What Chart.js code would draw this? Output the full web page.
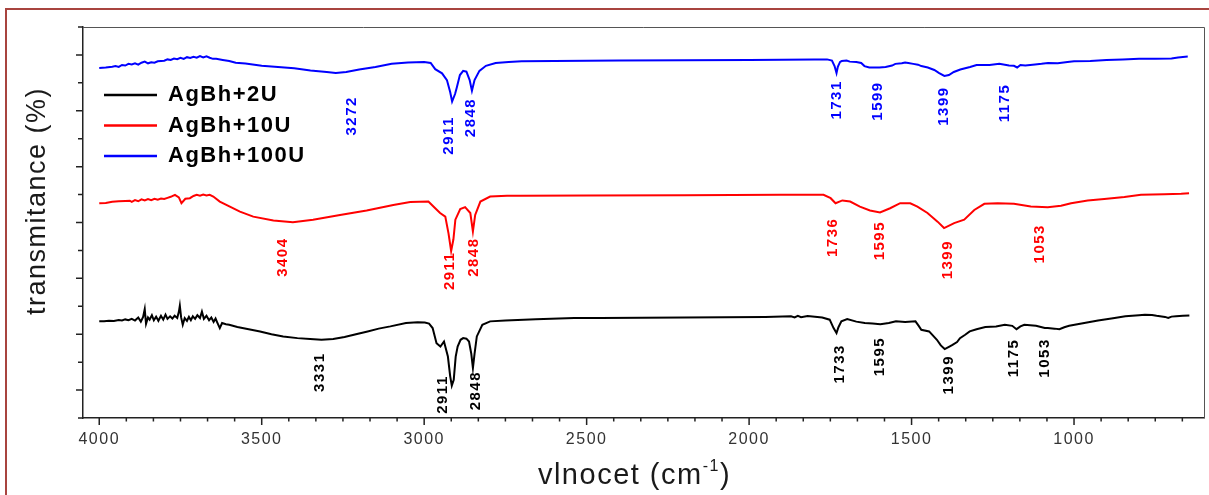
<!DOCTYPE html>
<html><head><meta charset="utf-8">
<script src="https://cdn.jsdelivr.net/npm/chart.js@4.4.1/dist/chart.umd.min.js"></script>
<style>html,body{margin:0;padding:0;background:#fff;}canvas{display:block;}</style>
</head><body>
<canvas id="c" width="1209" height="495"></canvas>
<script>
const seriesNames = ['AgBh+2U', 'AgBh+10U', 'AgBh+100U'];
const seriesColors = ['#000000', '#ff0000', '#0000ff'];

const blackWavenumbers = [4000,3985,3970,3955,3940,3930,3920,3910,3900,3890,3880,3872,3865,3860,3856,3850,3845,3838,3832,3825,3818,3810,3803,3796,3790,3782,3775,3768,3760,3755,3752,3748,3743,3737,3730,3724,3718,3712,3705,3698,3690,3684,3678,3670,3662,3655,3648,3642,3636,3629,3622,3610,3600,3575,3540,3505,3470,3434,3390,3351,3316,3280,3245,3210,3174,3140,3104,3056,3020,2998,2985,2974,2962,2950,2939,2927,2920,2915,2909,2903,2897,2888,2880,2870,2862,2855,2850,2845,2838,2821,2797,2750,2656,2538,2458,2200,1950,1871,1860,1850,1840,1820,1775,1752,1740,1731,1725,1716,1698,1670,1644,1620,1596,1570,1548,1520,1488,1478,1470,1446,1422,1410,1398,1385,1374,1360,1351,1335,1321,1300,1273,1240,1213,1190,1177,1165,1153,1117,1090,1081,1060,1045,1030,1015,998,960,926,880,842,800,782,760,746,720,710,700,686,665,645];
const blackValues = [3.46,3.46,3.48,3.47,3.51,3.49,3.53,3.50,3.55,3.49,3.60,3.45,3.62,3.90,3.37,3.60,3.52,3.68,3.50,3.63,3.48,3.66,3.52,3.70,3.55,3.64,3.56,3.66,3.58,3.80,4.02,3.60,3.34,3.58,3.48,3.62,3.50,3.64,3.55,3.68,3.58,3.81,3.55,3.66,3.50,3.60,3.44,3.56,3.40,3.22,3.40,3.36,3.34,3.26,3.18,3.10,3.00,2.92,2.86,2.83,2.80,2.83,2.90,3.00,3.10,3.20,3.28,3.40,3.43,3.42,3.38,3.22,2.68,2.56,2.74,2.20,1.50,1.16,1.37,2.20,2.56,2.80,2.86,2.84,2.74,2.30,1.79,2.30,2.92,3.34,3.46,3.49,3.54,3.58,3.58,3.60,3.62,3.64,3.60,3.66,3.61,3.65,3.60,3.52,3.22,3.04,3.25,3.46,3.54,3.45,3.40,3.38,3.36,3.40,3.46,3.44,3.46,3.30,3.16,3.10,2.80,2.60,2.47,2.55,2.62,2.72,2.86,2.98,3.10,3.18,3.26,3.28,3.34,3.30,3.18,3.28,3.34,3.30,3.22,3.22,3.20,3.18,3.25,3.30,3.34,3.42,3.49,3.57,3.64,3.68,3.70,3.69,3.66,3.62,3.58,3.63,3.64,3.66,3.67];

const redWavenumbers = [4000,3980,3960,3940,3920,3906,3900,3890,3880,3870,3860,3850,3840,3830,3820,3810,3800,3790,3780,3767,3755,3747,3735,3721,3710,3700,3690,3680,3670,3660,3649,3629,3598,3567,3526,3464,3404,3342,3259,3177,3095,3043,2987,2966,2951,2935,2925,2917,2910,2904,2889,2874,2858,2850,2843,2827,2797,2745,2704,2500,2200,1903,1771,1749,1734,1713,1689,1659,1628,1597,1566,1535,1504,1482,1451,1420,1400,1369,1338,1307,1276,1235,1185,1133,1081,1040,1009,958,907,845,794,722,670,646];
const redValues = [7.69,7.70,7.74,7.76,7.77,7.78,7.74,7.80,7.76,7.83,7.79,7.84,7.80,7.85,7.82,7.86,7.84,7.88,7.92,7.99,7.90,7.69,7.85,7.87,7.95,7.99,7.96,8.00,7.97,7.99,7.93,7.75,7.57,7.39,7.21,7.07,7.01,7.10,7.27,7.43,7.63,7.73,7.75,7.51,7.34,7.21,6.60,5.98,6.40,7.10,7.48,7.55,7.34,6.68,7.27,7.75,7.93,7.96,7.96,7.97,7.98,7.99,7.99,7.87,7.69,7.79,7.75,7.57,7.43,7.36,7.51,7.69,7.69,7.57,7.34,7.03,6.80,6.98,7.10,7.45,7.67,7.69,7.67,7.57,7.55,7.60,7.69,7.79,7.84,7.91,7.99,8.01,8.03,8.05];

const blueWavenumbers = [4000,3980,3960,3950,3940,3930,3920,3910,3900,3890,3880,3870,3860,3850,3840,3830,3820,3800,3790,3780,3770,3760,3750,3740,3730,3720,3710,3700,3690,3680,3670,3660,3650,3640,3620,3600,3580,3550,3500,3450,3400,3350,3300,3272,3240,3200,3150,3100,3050,3000,2980,2966,2945,2930,2920,2914,2905,2900,2890,2880,2870,2860,2853,2845,2830,2810,2780,2740,2700,2600,2400,2200,2000,1800,1760,1745,1737,1731,1727,1720,1715,1700,1690,1670,1655,1645,1630,1620,1599,1580,1560,1550,1530,1520,1510,1495,1480,1470,1450,1430,1415,1399,1385,1370,1350,1320,1300,1260,1230,1200,1185,1175,1165,1150,1120,1100,1080,1050,1020,1000,950,900,850,800,750,700,680,650];
const blueValues = [12.53,12.55,12.58,12.60,12.57,12.64,12.62,12.68,12.66,12.70,12.65,12.72,12.76,12.70,12.74,12.72,12.77,12.79,12.84,12.82,12.87,12.85,12.90,12.86,12.92,12.89,12.93,12.90,12.96,12.91,12.95,12.90,12.86,12.86,12.82,12.78,12.72,12.69,12.61,12.57,12.52,12.44,12.39,12.35,12.39,12.48,12.57,12.68,12.73,12.75,12.71,12.49,12.34,12.10,11.67,11.33,11.60,11.82,12.28,12.43,12.40,12.10,11.72,12.10,12.43,12.61,12.71,12.75,12.77,12.78,12.80,12.81,12.82,12.84,12.84,12.80,12.60,12.35,12.57,12.75,12.78,12.80,12.76,12.75,12.71,12.60,12.55,12.55,12.55,12.57,12.62,12.68,12.70,12.73,12.71,12.68,12.65,12.60,12.55,12.46,12.35,12.25,12.28,12.39,12.48,12.57,12.64,12.64,12.68,12.62,12.61,12.55,12.64,12.62,12.66,12.68,12.71,12.70,12.75,12.77,12.78,12.82,12.84,12.86,12.86,12.87,12.91,12.94];

// peak annotations: text, anchor wavenumber, anchor value
const blackPeakTexts = ['3331','2911','2848','1733','1595','1399','1175','1053'];
const blackPeakX = [3320,2941,2840,1722,1597,1384,1184,1091];
const blackPeakY = [1.64,0.84,0.98,1.94,2.20,1.55,2.15,2.15];
const redPeakTexts = ['3404','2911','2848','1736','1595','1399','1053'];
const redPeakX = [3434,2920,2848,1742,1598,1389,1105];
const redPeakY = [5.76,5.27,5.76,6.47,6.35,5.67,6.24];
const bluePeakTexts = ['3272','2911','2848','1731','1599','1399','1175'];
const bluePeakX = [3223,2925,2856,1731,1605,1400,1213];
const bluePeakY = [10.82,10.12,10.76,11.39,11.35,11.17,11.28];

const xMajorTicks = [4000,3500,3000,2500,2000,1500,1000];
const xTitleParts = ['vlnocet (cm', '-1', ')'];
const yTitle = 'transmitance (%)';

const FONT = "'Liberation Sans', Arial, sans-serif";

const seriesX = [blackWavenumbers, redWavenumbers, blueWavenumbers];
const seriesY = [blackValues, redValues, blueValues];
const peakSets = [
  [blackPeakTexts, blackPeakX, blackPeakY],
  [redPeakTexts, redPeakX, redPeakY],
  [bluePeakTexts, bluePeakX, bluePeakY]
];

const framePlugin = {
  id: 'frame',
  afterLayout(chart) {
    const lg = chart.legend; if (!lg) return;
    const a = chart.chartArea; const p = 8.5;
    lg.left = a.left + 21 - p; lg.top = a.top + 57 - p;
    lg.right = lg.left + 330; lg.bottom = lg.top + 130;
  },
  beforeDraw(chart) {
    const ctx = chart.ctx;
    ctx.save();
    ctx.strokeStyle = '#a8443f'; ctx.lineWidth = 2;
    ctx.beginPath(); ctx.moveTo(6, 495); ctx.lineTo(6, 9); ctx.lineTo(1209, 9); ctx.stroke();
    ctx.restore();
    ctx.letterSpacing = '1.5px';
  },
  beforeDatasetsDraw(chart) {
    const ctx = chart.ctx, xs = chart.scales.x, ys = chart.scales.y;
    ctx.save();
    ctx.font = 'bold 15px ' + FONT;
    ctx.textAlign = 'center'; ctx.textBaseline = 'middle';
    peakSets.forEach((set, si) => {
      const [texts, px, py] = set;
      ctx.fillStyle = seriesColors[si];
      texts.forEach((t, i) => {
        ctx.save();
        ctx.translate(xs.getPixelForValue(px[i]), ys.getPixelForValue(py[i]));
        ctx.rotate(-Math.PI / 2);
        ctx.fillText(t, 0, 0);
        ctx.restore();
      });
    });
    ctx.restore();
  },
  afterDatasetsDraw(chart) {
    const ctx = chart.ctx, xs = chart.scales.x, ys = chart.scales.y, a = chart.chartArea;
    ctx.save();
    ctx.strokeStyle = '#555'; ctx.lineWidth = 1;
    ctx.beginPath();
    ctx.moveTo(a.left, a.top + 0.5); ctx.lineTo(a.right + 0.5, a.top + 0.5); ctx.lineTo(a.right + 0.5, a.bottom);
    ctx.stroke();
    ctx.strokeStyle = '#222'; ctx.lineWidth = 1.5;
    ctx.beginPath();
    const step = (xMajorTicks[0] - xMajorTicks[1]) / 6;
    for (let k = 0; ; k++) {
      const v = xMajorTicks[0] - k * step;
      if (v < xs.min) break;
      const px = xs.getPixelForValue(v);
      const len = (k % 6 === 0) ? 7 : 3.5;
      ctx.moveTo(px, a.bottom); ctx.lineTo(px, a.bottom + len);
    }
    for (let k = 0; k <= ys.max; k++) {
      const py = ys.getPixelForValue(k);
      const len = (k % 2 === 1) ? 7 : 5;
      ctx.moveTo(a.left, py); ctx.lineTo(a.left - len, py);
    }
    ctx.stroke();
    ctx.restore();
  },
  afterDraw(chart) {
    const ctx = chart.ctx, a = chart.chartArea;
    ctx.save();
    ctx.fillStyle = '#1a1a1a';
    ctx.font = '27px ' + FONT;
    ctx.textAlign = 'center'; ctx.textBaseline = 'alphabetic';
    ctx.save();
    ctx.translate(45, (a.top + a.bottom) / 2 - 21.5);
    ctx.rotate(-Math.PI / 2);
    ctx.fillText(yTitle, 0, 0);
    ctx.restore();
    ctx.textAlign = 'left';
    const bigFont = '29px ' + FONT, supFont = '16px ' + FONT;
    ctx.font = bigFont; const w1 = ctx.measureText(xTitleParts[0]).width, w3 = ctx.measureText(xTitleParts[2]).width;
    ctx.font = supFont; const w2 = ctx.measureText(xTitleParts[1]).width;
    const cx = (a.left + a.right) / 2 - 9, base = 484;
    let x0 = cx - (w1 + w2 + w3) / 2;
    ctx.font = bigFont; ctx.fillText(xTitleParts[0], x0, base);
    ctx.font = supFont; ctx.fillText(xTitleParts[1], x0 + w1, base - 13);
    ctx.font = bigFont; ctx.fillText(xTitleParts[2], x0 + w1 + w2, base);
    ctx.restore();
  }
};

const datasets = seriesNames.map((name, i) => ({
  label: name,
  data: seriesX[i].map((x, j) => ({ x: x, y: seriesY[i][j] })),
  borderColor: seriesColors[i],
  backgroundColor: seriesColors[i],
  borderWidth: 2,
  pointRadius: 0,
  tension: 0,
  fill: false
}));

new Chart(document.getElementById('c'), {
  type: 'line',
  data: { datasets: datasets },
  options: {
    responsive: false,
    animation: false,
    devicePixelRatio: 1,
    layout: { padding: { left: 0, right: 5, top: 27, bottom: 0 } },
    scales: {
      x: {
        type: 'linear', reverse: true, min: 600, max: 4050,
        grid: { display: false, drawTicks: false },
        border: { display: true, color: '#222', width: 1.5 },
        ticks: { autoSkip: false, maxRotation: 0, padding: 12, color: '#333',
                 font: { family: FONT, size: 16 }, callback: (v) => String(v) },
        afterBuildTicks: (s) => { s.ticks = xMajorTicks.map(v => ({ value: v })); },
        afterFit: (s) => { s.height = 77; }
      },
      y: {
        type: 'linear', min: 0, max: 14,
        grid: { display: false, drawTicks: false },
        border: { display: true, color: '#222', width: 1.5 },
        ticks: { display: false },
        afterFit: (s) => { s.width = 83; }
      }
    },
    plugins: {
      tooltip: { enabled: false },
      legend: {
        position: 'chartArea', align: 'start',
        labels: {
          boxWidth: 53, boxHeight: 2.5, padding: 8.5, color: '#111',
          font: { family: FONT, size: 22, weight: 'bold' },
          generateLabels: (chart) => chart.data.datasets.map((ds, i) => ({
            text: ds.label, fillStyle: ds.borderColor, strokeStyle: ds.borderColor,
            lineWidth: 0, hidden: false, datasetIndex: i
          }))
        }
      }
    }
  },
  plugins: [framePlugin]
});
</script>
</body></html>
